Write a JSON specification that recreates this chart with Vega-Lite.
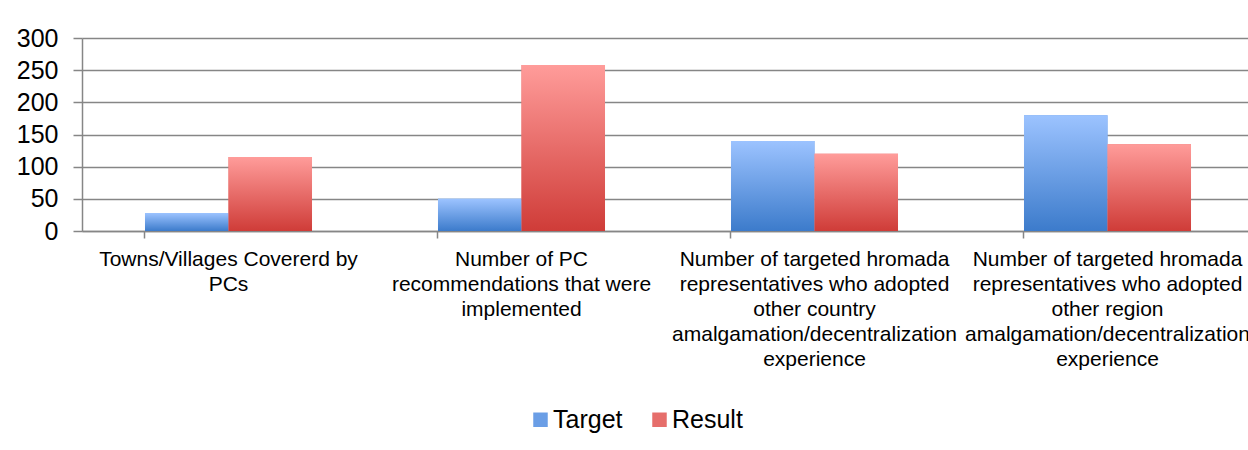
{
  "$schema": "https://vega.github.io/schema/vega-lite/v6.json",
  "autosize": "none",
  "width": 1166,
  "height": 193,
  "padding": {"left": 82, "top": 38, "right": 0, "bottom": 219},
  "background": "white",
  "data": {
    "values": [
      {"category": "Towns/Villages Covererd by|PCs", "series": "Target", "value": 28},
      {"category": "Towns/Villages Covererd by|PCs", "series": "Result", "value": 115},
      {"category": "Number of PC|recommendations that were|implemented", "series": "Target", "value": 50},
      {"category": "Number of PC|recommendations that were|implemented", "series": "Result", "value": 258},
      {"category": "Number of targeted hromada|representatives who adopted|other country|amalgamation/decentralization|experience", "series": "Target", "value": 140},
      {"category": "Number of targeted hromada|representatives who adopted|other country|amalgamation/decentralization|experience", "series": "Result", "value": 120},
      {"category": "Number of targeted hromada|representatives who adopted|other region|amalgamation/decentralization|experience", "series": "Target", "value": 180},
      {"category": "Number of targeted hromada|representatives who adopted|other region|amalgamation/decentralization|experience", "series": "Result", "value": 135}
    ]
  },
  "encoding": {
    "x": {
      "field": "category",
      "type": "nominal",
      "sort": null,
      "title": null,
      "scale": {"range": [0, 1172], "paddingInner": 0.43, "paddingOuter": 0.215},
      "axis": {
        "labelExpr": "split(datum.label, '|')",
        "labelAngle": 0,
        "labelFontSize": 21,
        "labelLineHeight": 25,
        "labelPadding": 10,
        "labelLimit": 0,
        "labelFont": "Liberation Sans",
        "labelColor": "#000000",
        "tickSize": 7,
        "tickColor": "#868686",
        "tickWidth": 1.5,
        "bandPosition": 0,
        "domainColor": "#868686",
        "domainWidth": 1.5,
        "grid": false
      }
    },
    "xOffset": {"field": "series", "type": "nominal", "sort": ["Target", "Result"], "scale": {"domain": ["Target", "Result"], "paddingInner": 0, "paddingOuter": 0}},
    "y": {
      "field": "value",
      "type": "quantitative",
      "title": null,
      "scale": {"domain": [0, 300], "nice": false},
      "axis": {
        "values": [0, 50, 100, 150, 200, 250, 300],
        "labelFontSize": 25,
        "labelFont": "Liberation Sans",
        "labelColor": "#000000",
        "labelPadding": 15,
        "tickSize": 9,
        "tickColor": "#868686",
        "tickWidth": 1.5,
        "domainColor": "#868686",
        "domainWidth": 1.5,
        "gridColor": "#868686",
        "gridWidth": 1.5
      }
    }
  },
  "layer": [
    {
      "mark": {"type": "bar"},
      "encoding": {
        "color": {
          "field": "series",
          "type": "nominal",
          "sort": ["Target", "Result"],
          "title": null,
          "scale": {"domain": ["Target", "Result"], "range": ["#6a9ee6", "#e66e6b"]},
          "legend": {
            "orient": "none",
            "direction": "horizontal",
            "legendX": 446,
            "legendY": 369,
            "padding": 0,
            "symbolType": "square",
            "symbolSize": 210,
            "symbolStrokeWidth": 0,
            "labelFontSize": 25,
            "labelFont": "Liberation Sans",
            "labelColor": "#000000",
            "labelOffset": 0,
            "columnPadding": 24
          }
        }
      }
    },
    {
      "transform": [{"filter": "datum.series === 'Target'"}],
      "mark": {
        "type": "bar",
        "color": {"gradient": "linear", "x1": 0, "y1": 1, "x2": 0, "y2": 0, "stops": [{"offset": 0, "color": "#3c7bcb"}, {"offset": 1, "color": "#9cc3ff"}]}
      }
    },
    {
      "transform": [{"filter": "datum.series === 'Result'"}],
      "mark": {
        "type": "bar",
        "color": {"gradient": "linear", "x1": 0, "y1": 1, "x2": 0, "y2": 0, "stops": [{"offset": 0, "color": "#cf3c38"}, {"offset": 1, "color": "#ff9c9a"}]}
      }
    }
  ],
  "config": {
    "view": {"stroke": null}
  }
}
